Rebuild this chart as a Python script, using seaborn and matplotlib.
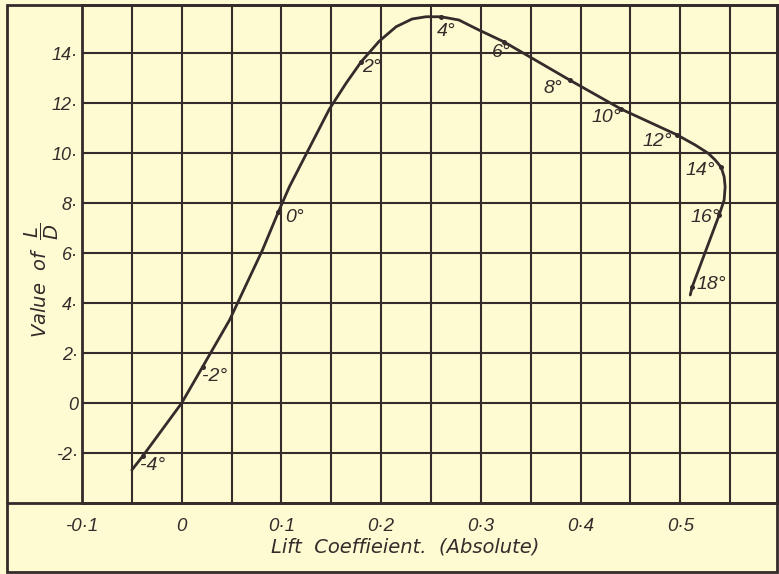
import matplotlib
matplotlib.use("Agg")
import matplotlib.pyplot as plt
import seaborn as sns
import pandas as pd
from matplotlib.lines import Line2D
from matplotlib.patches import Rectangle

# ---- data ----
angles = [-4, -2, 0, 2, 4, 6, 8, 10, 12, 14, 16, 18]
lift_coeff = [-0.039, 0.021, 0.097, 0.180, 0.260, 0.323, 0.389, 0.441, 0.497, 0.541, 0.539, 0.512]
l_over_d = [-2.12, 1.45, 7.65, 13.65, 15.45, 14.45, 12.92, 11.75, 10.72, 9.43, 7.52, 4.65]

# traced hand-drawn curve through the points
curve_x = [-0.050, -0.039, 0.000, 0.021, 0.048, 0.081, 0.097, 0.108, 0.125, 0.148,
           0.165, 0.180, 0.198, 0.215, 0.231, 0.245, 0.260, 0.278, 0.298, 0.323,
           0.389, 0.441, 0.497, 0.515, 0.528, 0.535, 0.541, 0.544, 0.545, 0.544,
           0.539, 0.512, 0.510]
curve_y = [-2.68, -2.12, 0.00, 1.45, 3.32, 6.12, 7.65, 8.65, 9.97, 11.75,
           12.80, 13.65, 14.47, 15.05, 15.36, 15.45, 15.45, 15.32, 14.92, 14.45,
           12.92, 11.75, 10.72, 10.32, 9.99, 9.72, 9.43, 9.05, 8.65, 8.12,
           7.52, 4.65, 4.32]

x_ticks = [-0.1, 0.0, 0.1, 0.2, 0.3, 0.4, 0.5]
x_tick_labels = ["-0·1", "0", "0·1", "0·2", "0·3", "0·4", "0·5"]
x_minor = [-0.05, 0.05, 0.15, 0.25, 0.35, 0.45, 0.55]
y_ticks = [-2, 0, 2, 4, 6, 8, 10, 12, 14]
y_tick_labels = ["-2·", "0", "2·", "4·", "6·", "8·", "10·", "12·", "14·"]

# label offsets in pixels (dx right, dy up)
label_dx = [10, 12, 16, 10, 5, -3, -17, -15, -20, -21, -14, 19]
label_dy = [-10, -10, -6, -6, -15, -11, -8, -8, -6, -3, -2, 2]

# ---- style ----
sns.set_style("white")
INK = "#342b2b"
PAPER = "#fdfbd2"
plt.rcParams["font.family"] = ["DejaVu Sans"]
plt.rcParams["mathtext.fontset"] = "dejavusans"

W, H = 779, 574
fig = plt.figure(figsize=(W / 100, H / 100), dpi=100, facecolor=PAPER)
ax_l, ax_r, ax_t, ax_b = 82, 777, 5, 503
ax = fig.add_axes([ax_l / W, (H - ax_b) / H, (ax_r - ax_l) / W, (ax_b - ax_t) / H])
ax.set_facecolor(PAPER)

ax.set_xlim(-0.1, 0.597)
ax.set_ylim(-4.0, 15.92)

ax.set_xticks(x_ticks)
ax.set_xticklabels(x_tick_labels)
ax.set_xticks(x_minor, minor=True)
ax.set_yticks(y_ticks)
ax.set_yticklabels(y_tick_labels)

for lab in ax.get_xticklabels():
    lab.set_fontsize(13.5)
    lab.set_fontstyle("italic")
    lab.set_family("Liberation Sans")
    lab.set_color(INK)
for lab in ax.get_yticklabels():
    lab.set_fontsize(13)
    lab.set_fontstyle("italic")
    lab.set_family("Liberation Sans")
    lab.set_color(INK)
ax.tick_params(axis="x", which="both", length=0, pad=11)
ax.tick_params(axis="y", which="both", length=0, pad=3)

ax.grid(True, which="both", color=INK, lw=1.5)
ax.set_axisbelow(True)
for sp in ax.spines.values():
    sp.set_color(INK)
    sp.set_linewidth(2)
    sp.set_visible(True)

# curve and points
curve = pd.DataFrame({"cl": curve_x, "ld": curve_y})
sns.lineplot(data=curve, x="cl", y="ld", sort=False, estimator=None, ax=ax,
             color=INK, lw=2.0, solid_joinstyle="round", solid_capstyle="round", zorder=3)
pts = pd.DataFrame({"cl": lift_coeff, "ld": l_over_d, "angle": angles})
sns.scatterplot(data=pts, x="cl", y="ld", ax=ax, color=INK, s=13, edgecolor=INK,
                linewidth=0, zorder=4, legend=False)

for a, x, y, dx, dy in zip(angles, lift_coeff, l_over_d, label_dx, label_dy):
    ax.annotate(f"{a}°", xy=(x, y), xytext=(dx, dy), textcoords="offset pixels",
                ha="center", va="center", fontsize=14, fontstyle="italic",
                family="Liberation Sans", color=INK, zorder=5)

ax.set_xlabel("Lift  Coeffieient.  (Absolute)", fontsize=14, fontstyle="italic",
              color=INK, va="center")
ax.xaxis.set_label_coords((405 - ax_l) / (ax_r - ax_l), (ax_b - 547) / (ax_b - ax_t))
ax.set_ylabel(r"Value  of  $\dfrac{L}{D}$", fontsize=14, fontstyle="italic",
              color=INK, va="center")
ax.yaxis.set_label_coords((42 - ax_l) / (ax_r - ax_l), (ax_b - 280) / (ax_b - ax_t))

# outer frame and the line closing the label strip
fig.add_artist(Rectangle((7 / W, (H - 572) / H), (777 - 7) / W, (572 - 5) / H,
                         transform=fig.transFigure, fill=False, ec=INK, lw=2))
fig.add_artist(Line2D([7 / W, 777 / W], [(H - ax_b) / H] * 2,
                      transform=fig.transFigure, color=INK, lw=2))

fig.savefig("out.png", dpi=100, facecolor=PAPER)
